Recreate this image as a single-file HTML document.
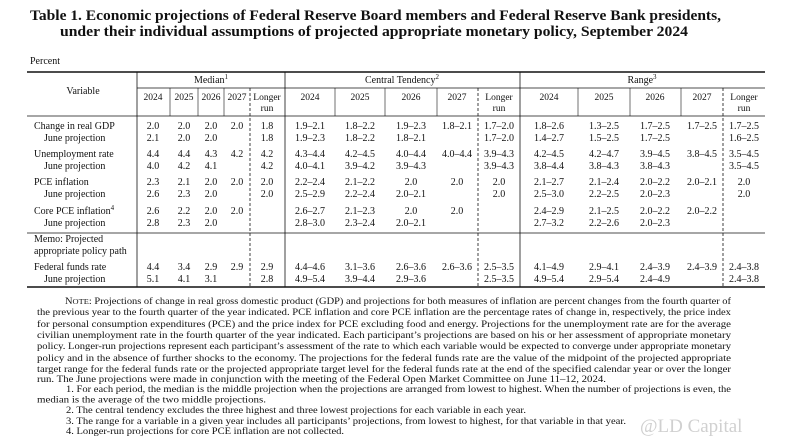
<!DOCTYPE html>
<html><head><style>body{margin:0;background:#fff}svg{display:block}text{font-family:"Liberation Serif",serif;fill:#111}</style></head><body>
<svg width="788" height="445" viewBox="0 0 788 445" xmlns="http://www.w3.org/2000/svg">
<g font-weight="bold" font-size="15">
<text x="30" y="20" textLength="691" lengthAdjust="spacingAndGlyphs">Table 1.  Economic projections of Federal Reserve Board members and Federal Reserve Bank presidents,</text>
<text x="60" y="36" textLength="628" lengthAdjust="spacingAndGlyphs">under their individual assumptions of projected appropriate monetary policy, September 2024</text>
</g>
<text x="30" y="64" font-size="10">Percent</text>
<g stroke="#111" fill="none">
<line x1="27" y1="72" x2="765" y2="72" stroke-width="1.5"/>
<line x1="137" y1="88" x2="765" y2="88" stroke-width="0.8"/>
<line x1="27" y1="116" x2="765" y2="116" stroke-width="0.8"/>
<line x1="27" y1="233" x2="765" y2="233" stroke-width="0.8"/>
<line x1="27" y1="287" x2="765" y2="287" stroke-width="1.5"/>
<line x1="137" y1="72" x2="137" y2="287" stroke-width="0.8"/>
<line x1="285" y1="72" x2="285" y2="287" stroke-width="0.8"/>
<line x1="520" y1="72" x2="520" y2="287" stroke-width="0.8"/>
<g stroke-width="0.6">
<line x1="170" y1="88" x2="170" y2="116"/><line x1="198" y1="88" x2="198" y2="116"/><line x1="224" y1="88" x2="224" y2="116"/>
<line x1="335" y1="88" x2="335" y2="116"/><line x1="385" y1="88" x2="385" y2="116"/><line x1="437" y1="88" x2="437" y2="116"/>
<line x1="578" y1="88" x2="578" y2="116"/><line x1="630" y1="88" x2="630" y2="116"/><line x1="681" y1="88" x2="681" y2="116"/>
</g>
<g stroke-width="0.8" stroke-dasharray="3,2">
<line x1="250" y1="88" x2="250" y2="287"/><line x1="478" y1="88" x2="478" y2="287"/><line x1="723" y1="88" x2="723" y2="287"/>
</g>
</g>
<g font-size="10" text-anchor="middle">
<text x="83" y="94">Variable</text>
<text x="211" y="83">Median<tspan font-size="7" dy="-4">1</tspan></text>
<text x="402" y="83">Central Tendency<tspan font-size="7" dy="-4">2</tspan></text>
<text x="642" y="83">Range<tspan font-size="7" dy="-4">3</tspan></text>
<g font-size="9.5">
<text x="153" y="100">2024</text><text x="184" y="100">2025</text><text x="211" y="100">2026</text><text x="237" y="100">2027</text><text x="267" y="100">Longer</text><text x="267" y="111">run</text>
<text x="310" y="100">2024</text><text x="360" y="100">2025</text><text x="411" y="100">2026</text><text x="457" y="100">2027</text><text x="499" y="100">Longer</text><text x="499" y="111">run</text>
<text x="549" y="100">2024</text><text x="604" y="100">2025</text><text x="655" y="100">2026</text><text x="702" y="100">2027</text><text x="744" y="100">Longer</text><text x="744" y="111">run</text>
</g>
</g>
<g font-size="10">
<text x="34" y="129">Change in real GDP</text><text x="44" y="141">June projection</text>
<text x="34" y="157">Unemployment rate</text><text x="44" y="169">June projection</text>
<text x="34" y="185">PCE inflation</text><text x="44" y="197">June projection</text>
<text x="34" y="214">Core PCE inflation<tspan font-size="7" dy="-4">4</tspan></text><text x="44" y="226">June projection</text>
<text x="34" y="242">Memo: Projected</text><text x="34" y="254">appropriate policy path</text>
<text x="34" y="270">Federal funds rate</text><text x="44" y="282">June projection</text>
</g>
<g font-size="10" text-anchor="middle">
<g transform="translate(0,129)"><text x="153">2.0</text><text x="184">2.0</text><text x="211">2.0</text><text x="237">2.0</text><text x="267">1.8</text><text x="310">1.9–2.1</text><text x="360">1.8–2.2</text><text x="411">1.9–2.3</text><text x="457">1.8–2.1</text><text x="499">1.7–2.0</text><text x="549">1.8–2.6</text><text x="604">1.3–2.5</text><text x="655">1.7–2.5</text><text x="702">1.7–2.5</text><text x="744">1.7–2.5</text></g>
<g transform="translate(0,141)"><text x="153">2.1</text><text x="184">2.0</text><text x="211">2.0</text><text x="267">1.8</text><text x="310">1.9–2.3</text><text x="360">1.8–2.2</text><text x="411">1.8–2.1</text><text x="499">1.7–2.0</text><text x="549">1.4–2.7</text><text x="604">1.5–2.5</text><text x="655">1.7–2.5</text><text x="744">1.6–2.5</text></g>
<g transform="translate(0,157)"><text x="153">4.4</text><text x="184">4.4</text><text x="211">4.3</text><text x="237">4.2</text><text x="267">4.2</text><text x="310">4.3–4.4</text><text x="360">4.2–4.5</text><text x="411">4.0–4.4</text><text x="457">4.0–4.4</text><text x="499">3.9–4.3</text><text x="549">4.2–4.5</text><text x="604">4.2–4.7</text><text x="655">3.9–4.5</text><text x="702">3.8–4.5</text><text x="744">3.5–4.5</text></g>
<g transform="translate(0,169)"><text x="153">4.0</text><text x="184">4.2</text><text x="211">4.1</text><text x="267">4.2</text><text x="310">4.0–4.1</text><text x="360">3.9–4.2</text><text x="411">3.9–4.3</text><text x="499">3.9–4.3</text><text x="549">3.8–4.4</text><text x="604">3.8–4.3</text><text x="655">3.8–4.3</text><text x="744">3.5–4.5</text></g>
<g transform="translate(0,185)"><text x="153">2.3</text><text x="184">2.1</text><text x="211">2.0</text><text x="237">2.0</text><text x="267">2.0</text><text x="310">2.2–2.4</text><text x="360">2.1–2.2</text><text x="411">2.0</text><text x="457">2.0</text><text x="499">2.0</text><text x="549">2.1–2.7</text><text x="604">2.1–2.4</text><text x="655">2.0–2.2</text><text x="702">2.0–2.1</text><text x="744">2.0</text></g>
<g transform="translate(0,197)"><text x="153">2.6</text><text x="184">2.3</text><text x="211">2.0</text><text x="267">2.0</text><text x="310">2.5–2.9</text><text x="360">2.2–2.4</text><text x="411">2.0–2.1</text><text x="499">2.0</text><text x="549">2.5–3.0</text><text x="604">2.2–2.5</text><text x="655">2.0–2.3</text><text x="744">2.0</text></g>
<g transform="translate(0,214)"><text x="153">2.6</text><text x="184">2.2</text><text x="211">2.0</text><text x="237">2.0</text><text x="310">2.6–2.7</text><text x="360">2.1–2.3</text><text x="411">2.0</text><text x="457">2.0</text><text x="549">2.4–2.9</text><text x="604">2.1–2.5</text><text x="655">2.0–2.2</text><text x="702">2.0–2.2</text></g>
<g transform="translate(0,226)"><text x="153">2.8</text><text x="184">2.3</text><text x="211">2.0</text><text x="310">2.8–3.0</text><text x="360">2.3–2.4</text><text x="411">2.0–2.1</text><text x="549">2.7–3.2</text><text x="604">2.2–2.6</text><text x="655">2.0–2.3</text></g>
<g transform="translate(0,270)"><text x="153">4.4</text><text x="184">3.4</text><text x="211">2.9</text><text x="237">2.9</text><text x="267">2.9</text><text x="310">4.4–4.6</text><text x="360">3.1–3.6</text><text x="411">2.6–3.6</text><text x="457">2.6–3.6</text><text x="499">2.5–3.5</text><text x="549">4.1–4.9</text><text x="604">2.9–4.1</text><text x="655">2.4–3.9</text><text x="702">2.4–3.9</text><text x="744">2.4–3.8</text></g>
<g transform="translate(0,282)"><text x="153">5.1</text><text x="184">4.1</text><text x="211">3.1</text><text x="267">2.8</text><text x="310">4.9–5.4</text><text x="360">3.9–4.4</text><text x="411">2.9–3.6</text><text x="499">2.5–3.5</text><text x="549">4.9–5.4</text><text x="604">2.9–5.4</text><text x="655">2.4–4.9</text><text x="744">2.4–3.8</text></g>
</g>
<g font-size="9.3">
<text x="65" y="304" textLength="666" lengthAdjust="spacingAndGlyphs">N<tspan font-size="7.5">OTE</tspan>: Projections of change in real gross domestic product (GDP) and projections for both measures of inflation are percent changes from the fourth quarter of</text>
<text x="37" y="315" textLength="694" lengthAdjust="spacingAndGlyphs">the previous year to the fourth quarter of the year indicated. PCE inflation and core PCE inflation are the percentage rates of change in, respectively, the price index</text>
<text x="37" y="327" textLength="694" lengthAdjust="spacingAndGlyphs">for personal consumption expenditures (PCE) and the price index for PCE excluding food and energy. Projections for the unemployment rate are for the average</text>
<text x="37" y="338" textLength="694" lengthAdjust="spacingAndGlyphs">civilian unemployment rate in the fourth quarter of the year indicated. Each participant’s projections are based on his or her assessment of appropriate monetary</text>
<text x="37" y="349" textLength="694" lengthAdjust="spacingAndGlyphs">policy. Longer-run projections represent each participant’s assessment of the rate to which each variable would be expected to converge under appropriate monetary</text>
<text x="37" y="361" textLength="694" lengthAdjust="spacingAndGlyphs">policy and in the absence of further shocks to the economy. The projections for the federal funds rate are the value of the midpoint of the projected appropriate</text>
<text x="37" y="372" textLength="694" lengthAdjust="spacingAndGlyphs">target range for the federal funds rate or the projected appropriate target level for the federal funds rate at the end of the specified calendar year or over the longer</text>
<text x="37" y="382" textLength="569" lengthAdjust="spacingAndGlyphs">run. The June projections were made in conjunction with the meeting of the Federal Open Market Committee on June 11–12, 2024.</text>
<text x="66" y="392" textLength="665" lengthAdjust="spacingAndGlyphs">1. For each period, the median is the middle projection when the projections are arranged from lowest to highest. When the number of projections is even, the</text>
<text x="37" y="402.5" textLength="229" lengthAdjust="spacingAndGlyphs">median is the average of the two middle projections.</text>
<text x="66" y="413" textLength="460" lengthAdjust="spacingAndGlyphs">2. The central tendency excludes the three highest and three lowest projections for each variable in each year.</text>
<text x="66" y="424" textLength="560" lengthAdjust="spacingAndGlyphs">3. The range for a variable in a given year includes all participants’ projections, from lowest to highest, for that variable in that year.</text>
<text x="66" y="434" textLength="278" lengthAdjust="spacingAndGlyphs">4. Longer-run projections for core PCE inflation are not collected.</text>
</g>
<text x="640" y="432" font-family="Liberation Sans, sans-serif" font-size="19" style="fill:#d0d0d0">@LD Capital</text>
</svg>
</body></html>
